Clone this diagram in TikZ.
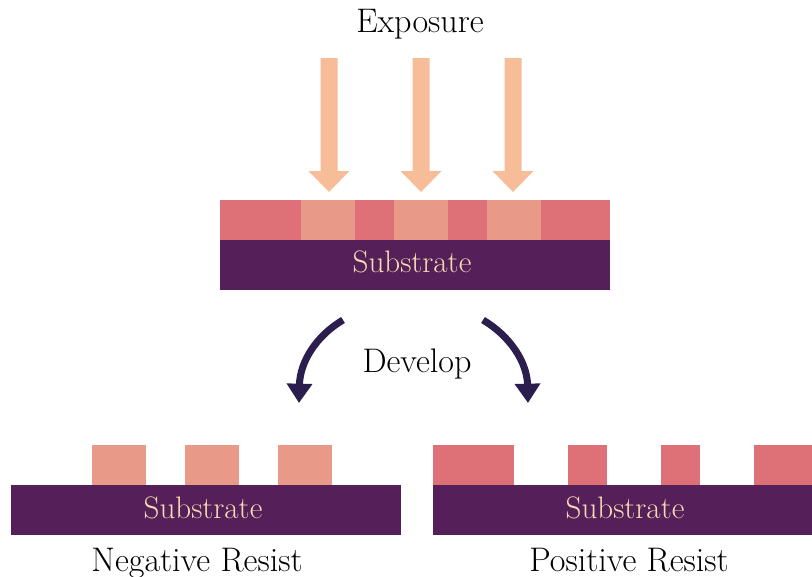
\documentclass[tikz,border=0pt]{standalone}
\usepackage{color}
\usepackage{amsmath}
\usepackage{tikz}
\usetikzlibrary{arrows.meta}

\definecolor{substr}{HTML}{55205A}
\definecolor{resistdark}{HTML}{DE7077}
\definecolor{resistlight}{HTML}{E99987}
\definecolor{exposecol}{HTML}{F6BD98}
\definecolor{developcol}{HTML}{2B1E4E}
\definecolor{substrtext}{HTML}{F6D9B0}

\begin{document}
\begin{tikzpicture}[x=0.02cm,y=-0.02cm,
        label/.style={font=\fontsize{19.4}{22}\selectfont,anchor=base},
        subtext/.style={font=\fontsize{17.7}{20}\selectfont,text=substrtext,anchor=base},
        devarrow/.style={draw=developcol,line width=4pt,-{Triangle[width=14pt,length=11pt]}}]
                \useasboundingbox (0,0) rectangle (812,576);
                \clip (0,0) rectangle (812,576);
                % exposure
                \node[label] (exposure) at (420,32) {Exposure};
                \foreach \x in {329,421,513}
                    \fill[exposecol] (\x-8.5,58) -- (\x+8.5,58) -- (\x+8.5,171) -- (\x+20.5,171)
                        -- (\x,192) -- (\x-20.5,171) -- (\x-8.5,171) -- cycle;
                % exposed wafer
                \fill[resistdark] (220,200) rectangle (610,240);
                \foreach \x in {301,394,487}
                    \fill[resistlight] (\x,200) rectangle (\x+54,240);
                \fill[substr] (220,240) rectangle (610,290);
                \node[subtext] (subtop) at (412,272) {Substrate};
                % develop
                \node[label] (develop) at (417,372) {Develop};
                \draw[devarrow] (343,320) .. controls (316,336) and (300,362) .. (299,403);
                \draw[devarrow] (483,320) .. controls (510,336) and (527,362) .. (528,403);
                % negative resist
                \foreach \x in {92,185,278}
                    \fill[resistlight] (\x,445) rectangle (\x+54,485);
                \fill[substr] (11,485) rectangle (401,535);
                \node[subtext] (subneg) at (203,518) {Substrate};
                \node[label] (negative) at (197,571) {Negative Resist};
                % positive resist
                \fill[resistdark] (433,445) rectangle (514,485);
                \foreach \x in {568,661}
                    \fill[resistdark] (\x,445) rectangle (\x+39,485);
                \fill[resistdark] (754,445) rectangle (823,485);
                \fill[substr] (433,485) rectangle (823,535);
                \node[subtext] (subpos) at (625,518) {Substrate};
                \node[label] (positive) at (629,571) {Positive Resist};
            \end{tikzpicture}
\end{document}
